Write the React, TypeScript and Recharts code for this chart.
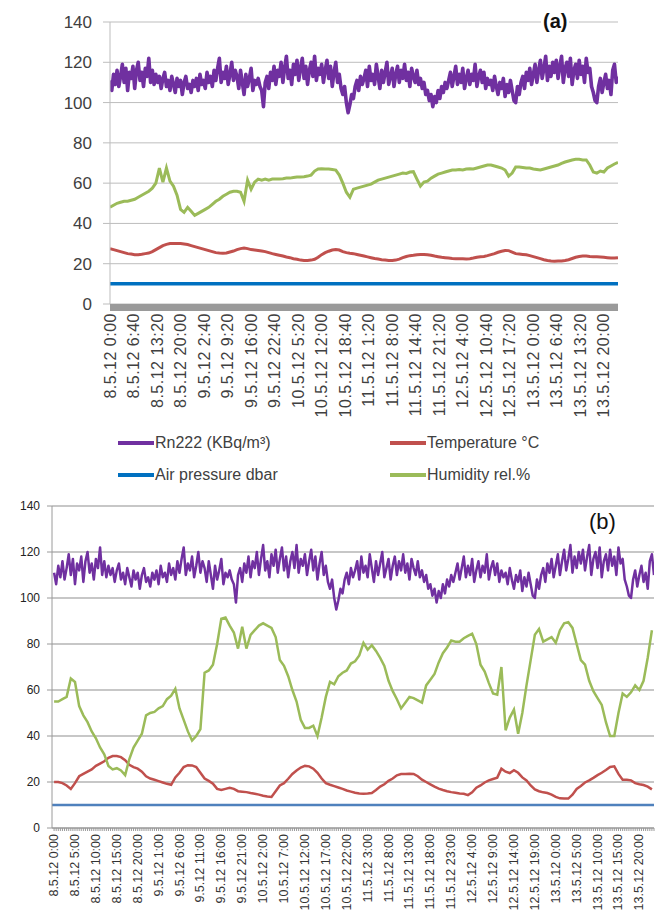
import React from 'react';
import { LineChart, Line, XAxis, YAxis, CartesianGrid } from 'recharts';

// ---------- tick labels ----------
const labelsA = [
  '8.5.12 0:00', '8.5.12 6:40', '8.5.12 13:20', '8.5.12 20:00', '9.5.12 2:40', '9.5.12 9:20',
  '9.5.12 16:00', '9.5.12 22:40', '10.5.12 5:20', '10.5.12 12:00', '10.5.12 18:40', '11.5.12 1:20',
  '11.5.12 8:00', '11.5.12 14:40', '11.5.12 21:20', '12.5.12 4:00', '12.5.12 10:40', '12.5.12 17:20',
  '13.5.12 0:00', '13.5.12 6:40', '13.5.12 13:20', '13.5.12 20:00',
];
const labelsB = [
  '8.5.12 0:00', '8.5.12 5:00', '8.5.12 10:00', '8.5.12 15:00', '8.5.12 20:00', '9.5.12 1:00',
  '9.5.12 6:00', '9.5.12 11:00', '9.5.12 16:00', '9.5.12 21:00', '10.5.12 2:00', '10.5.12 7:00',
  '10.5.12 12:00', '10.5.12 17:00', '10.5.12 22:00', '11.5.12 3:00', '11.5.12 8:00', '11.5.12 13:00',
  '11.5.12 18:00', '11.5.12 23:00', '12.5.12 4:00', '12.5.12 9:00', '12.5.12 14:00', '12.5.12 19:00',
  '13.5.12 0:00', '13.5.12 5:00', '13.5.12 10:00', '13.5.12 15:00', '13.5.12 20:00',
];
const yTicks = [0, 20, 40, 60, 80, 100, 120, 140];

// ---------- series (Rn222 every 30 min, others hourly) ----------
const rn222 = [
  111, 106, 114, 109, 116, 108, 113, 119, 110, 117, 106, 115,
  112, 118, 107, 116, 120, 111, 115, 108, 117, 113, 122, 110,
  116, 109, 114, 110, 113, 107, 112, 115, 108, 111, 106, 113,
  109, 105, 112, 108, 111, 104, 110, 113, 107, 109, 105, 111,
  108, 112, 106, 114, 109, 111, 107, 115, 110, 113, 108, 116,
  111, 117, 122, 110, 115, 112, 118, 109, 114, 120, 111, 116,
  113, 107, 116, 110, 104, 114, 108, 112, 117, 106, 111, 109,
  112, 108, 106, 98, 110, 113, 107, 115, 111, 118, 109, 116,
  113, 120, 110, 117, 123, 112, 116, 109, 119, 114, 121, 111,
  117, 122, 112, 118, 109, 116, 120, 113, 123, 111, 117, 114,
  119, 110, 116, 121, 112, 118, 108, 115, 120, 110, 114, 107,
  104, 108, 100, 95, 99, 104, 102, 108, 111, 106, 113, 109,
  112, 116, 108, 118, 111, 114, 109, 119, 113, 107, 116, 110,
  115, 120, 109, 113, 117, 108, 114, 118, 110, 116, 112, 119,
  111, 115, 108, 117, 113, 110, 116, 109, 112, 107, 110, 104,
  106, 101, 104, 98, 103, 100, 106, 102, 108, 105, 110, 107,
  111, 115, 108, 113, 118, 109, 114, 110, 117, 107, 112, 116,
  109, 114, 111, 119, 108, 113, 116, 110, 115, 107, 112, 109,
  111, 106, 113, 108, 104, 110, 107, 112, 103, 109, 105, 111,
  106, 101, 100, 108, 104, 110, 113, 107, 115, 111, 117, 109,
  114, 119, 110, 116, 121, 112, 117, 123, 111, 118, 113, 120,
  115, 121, 112, 118, 123, 110, 117, 120, 113, 122, 109, 116,
  119, 112, 121, 114, 118, 110, 122, 115, 117, 108, 105, 101,
  100, 108, 112, 105, 110, 114, 107, 111, 104, 116, 119, 110,
  113,
];

const humidityA = [
  48, 49, 50, 50.5, 51, 51, 51.5, 52, 53, 54,
  55, 56, 57.5, 60, 67.5, 60.5, 67.5, 61, 58.5, 54,
  47, 45.5, 48, 46, 44, 45, 46, 47, 48, 49.5,
  51, 52, 53.5, 54.5, 55.5, 56, 56, 55.5, 51, 61.5,
  57, 60.5, 62, 61.5, 62, 61.5, 62, 62, 62, 62.2,
  62.5, 62.5, 62.8, 63, 63, 63.2, 63.5, 64, 66, 67,
  67.2, 67, 67, 66.8, 66.5, 64, 60, 55.5, 53, 57,
  57.5, 58, 58.5, 59, 59.5, 60.5, 61.5, 62, 62.5, 63,
  63.5, 64, 64.5, 65, 64.8, 65.5, 65.7, 62, 58.5, 60.5,
  61, 62.5, 63.5, 64.5, 65, 65.5, 66, 66.5, 66.5, 66.8,
  66.5, 67, 67.2, 67, 67.5, 68, 68.5, 69, 69, 68.5,
  68, 67.5, 66.5, 63.5, 65, 68, 68, 67.8, 67.5, 67.5,
  67, 66.8, 66.5, 67, 67.5, 68, 68.5, 69, 69.8, 70.5,
  71, 71.5, 71.8, 71.8, 71.5, 71.5, 69, 65.5, 65, 66,
  65.5, 67.5, 68.5, 69.5, 70.3,
];

const temperatureA = [
  27.5, 27, 26.5, 26, 25.5, 25, 24.8, 24.5, 24.5, 24.7,
  25, 25.3, 26, 27, 28, 29, 29.6, 30, 30, 30,
  30, 29.8, 29.5, 29, 28.5, 28, 27.5, 27, 26.5, 26,
  25.5, 25.3, 25.2, 25.3, 25.8, 26.3, 27, 27.5, 27.8, 27.5,
  27, 26.8, 26.6, 26.3, 26, 25.5, 25, 24.6, 24.2, 23.8,
  23.3, 23, 22.5, 22.2, 21.8, 21.6, 21.6, 21.8, 22.2, 23.2,
  24.5, 25.5, 26.2, 26.8, 27, 26.8, 26, 25.5, 25.2, 25,
  24.6, 24.2, 23.8, 23.4, 23, 22.6, 22.3, 22, 21.8, 21.6,
  21.6, 21.8, 22.3, 23, 23.6, 24, 24.2, 24.5, 24.6, 24.6,
  24.5, 24.2, 23.8, 23.5, 23.2, 23, 22.8, 22.6, 22.5, 22.5,
  22.5, 22.4, 22.5, 22.8, 23.2, 23.5, 23.6, 24, 24.5, 25,
  25.7, 26.2, 26.6, 26.5, 25.8, 25, 24.8, 24.6, 24.4, 24,
  23.5, 23, 22.5, 22, 21.6, 21.3, 21.2, 21.3, 21.4, 21.6,
  22, 22.6, 23.2, 23.6, 23.8, 23.8, 23.6, 23.5, 23.4, 23.3,
  23.2, 23, 22.8, 22.8, 23,
];

const airPressureA = [10, 10];
const airPressureHoursA = [0, 144];

const humidityB = [
  55, 55, 56, 57, 65, 63.5, 53, 49, 46, 42,
  39, 35, 32, 27, 25.5, 26, 25, 23, 30, 35,
  38, 41, 49, 50, 50.5, 52, 53, 56, 57.5, 60.5,
  52, 47, 42, 38, 40, 43, 67.5, 68.5, 71, 80,
  91, 91.5, 88, 85, 78, 87.5, 78, 84, 86, 88,
  89, 88, 87, 83, 73, 70.5, 66, 60, 55, 47,
  43.5, 43.5, 44.5, 40, 48, 57, 63.5, 62.5, 66, 67.5,
  68.5, 71.5, 72.5, 75, 80.5, 77.5, 79.5, 77, 74, 70.5,
  64, 59.5, 56, 52, 54.5, 57, 56.5, 55.5, 54.5, 62,
  64.5, 67, 72, 76, 78.5, 81.5, 81, 81, 82.5, 83.5,
  84.5, 80, 71, 68, 63, 58.5, 58, 70, 42.5, 48,
  51.5, 41, 50, 62, 73, 84, 86.5, 81, 82, 83,
  80.5, 86, 89, 89.5, 87, 80, 73, 71, 64, 59.5,
  56.5, 53.5, 46, 40, 40, 50, 58.5, 57, 59, 62,
  60, 64, 74, 86,
];

const temperatureB = [
  20, 20, 19.5, 18.5, 17, 19.5, 22.5, 23.5, 24.5, 25.5,
  27, 28, 29, 30.5, 31.3, 31.3, 30.8, 29.5, 27.5, 26.5,
  25.8, 24.5, 22.5, 21.5, 21, 20.4, 19.8, 19.2, 18.8, 22,
  24, 26.5, 27.3, 27.2, 26.5, 24, 21.5, 20.5, 19.3, 17,
  16.5, 17, 17.5, 17, 16, 15.8, 15.6, 15.2, 14.9, 14.5,
  14, 13.7, 13.5, 16, 18.5, 19.5, 21.4, 23.5, 25, 26.3,
  27, 26.8, 25.8, 24, 21.5, 19.5, 18.8, 18.2, 17.6, 17,
  16.3, 15.8, 15.3, 15, 14.9, 15, 15.2, 16.5, 18, 19,
  20.5, 21.5, 22.9, 23.5, 23.5, 23.6, 23.5, 22.5, 21, 20,
  19, 18, 17.1, 16.5, 16, 15.6, 15.3, 15, 14.9, 14.3,
  15.5, 17.5, 18.5, 19.8, 20.7, 21.3, 21.9, 25.8, 24.5, 23.9,
  25.1, 24, 22, 20.7, 18.5, 16.8, 16, 15.5, 15.2, 14.5,
  13.5, 12.9, 12.8, 12.8, 14.5, 17, 18.3, 19.8, 20.7, 21.8,
  23, 24, 25.2, 26.5, 26.8, 23.5, 21, 21, 20.7, 19.5,
  19, 18.7, 18, 16.8,
];

const airPressureB = [10, 10];
const airPressureHoursB = [-0.5, 143.5];

// ---------- build series tables ----------
const rnData = rn222.map((v, i) => ({ h: i * 0.5, v }));
const hourly = (arr: number[]) => arr.map((v, i) => ({ h: i, v }));
const pairs = (hs: number[], vs: number[]) => hs.map((h, i) => ({ h, v: vs[i] }));

const humADat = hourly(humidityA);
const tempADat = hourly(temperatureA);
const airADat = pairs(airPressureHoursA, airPressureA);
const humBDat = hourly(humidityB);
const tempBDat = hourly(temperatureB);
const airBDat = pairs(airPressureHoursB, airPressureB);
const rnBDat = rnData.filter((d) => d.h <= 143.5);

const ticksA = labelsA.map((_, i) => (i * 400) / 60);
const ticksB = rnBDat.map((d) => d.h);

const COLORS = {
  rn: '#7030a0',
  temp: '#c0504d',
  air: '#0070c0',
  hum: '#9bbb59',
  airB: '#4f81bd',
};

const FONT = '"Liberation Sans", Arial, sans-serif';

const TickA = (props: any) => {
  const { x, y, payload } = props;
  const idx = Math.round((payload.value * 60) / 400);
  return (
    <g transform={`translate(${x},${y})`}>
      <text
        transform="rotate(-90)"
        x={-9}
        y={0}
        textAnchor="end"
        dominantBaseline="central"
        fontSize={16}
        letterSpacing={0.5}
        fill="#404040"
        fontFamily={FONT}
      >
        {labelsA[idx]}
      </text>
    </g>
  );
};

const TickB = (props: any) => {
  const { x, y, payload } = props;
  const v = payload.value;
  if (Math.abs(v % 5) > 1e-6) return <g />;
  const idx = Math.round(v / 5);
  if (idx >= labelsB.length) return <g />;
  return (
    <g transform={`translate(${x},${y})`}>
      <text
        transform="rotate(-90)"
        x={-3}
        y={0}
        textAnchor="end"
        dominantBaseline="central"
        fontSize={12.5}
        fill="#333"
        fontFamily={FONT}
      >
        {labelsB[idx]}
      </text>
    </g>
  );
};

const legendItems = [
  { name: 'Rn222 (KBq/m³)', color: COLORS.rn, x: 118, y: 443 },
  { name: 'Temperature °C', color: COLORS.temp, x: 390, y: 443 },
  { name: 'Air pressure dbar', color: COLORS.air, x: 118, y: 475 },
  { name: 'Humidity rel.%', color: COLORS.hum, x: 390, y: 475 },
];

export default function App() {
  return (
    <div
      style={{
        position: 'absolute',
        left: 0,
        top: 0,
        width: 666,
        height: 915,
        background: '#fff',
        overflow: 'hidden',
        fontFamily: FONT,
      }}
    >
      {/* Chart (a) */}
      <div style={{ position: 'absolute', left: 0, top: 0 }}>
        <LineChart width={666} height={430} margin={{ top: 22, right: 48, bottom: 0, left: 0 }}>
          <CartesianGrid vertical={false} stroke="#bdbdbd" />
          <XAxis
            type="number"
            dataKey="h"
            domain={[0, 144]}
            ticks={ticksA}
            interval={0}
            height={126}
            tickSize={0}
            tickMargin={0}
            tickLine={false}
            axisLine={{ stroke: '#9a9a9a', strokeWidth: 7, transform: 'translate(0,3.5)' }}
            tick={<TickA />}
            allowDataOverflow
          />
          <YAxis
            type="number"
            domain={[0, 140]}
            ticks={yTicks}
            width={110}
            tickSize={7}
            tickMargin={11}
            axisLine={{ stroke: '#bdbdbd' }}
            tickLine={{ stroke: '#bdbdbd' }}
            tick={{ fontSize: 17, fill: '#404040', fontFamily: FONT }}
          />
          <Line data={airADat} dataKey="v" type="linear" stroke={COLORS.air} strokeWidth={3.5} dot={false} isAnimationActive={false} />
          <Line data={tempADat} dataKey="v" type="linear" stroke={COLORS.temp} strokeWidth={3} dot={false} isAnimationActive={false} />
          <Line data={humADat} dataKey="v" type="linear" stroke={COLORS.hum} strokeWidth={3} dot={false} isAnimationActive={false} />
          <Line data={rnData} dataKey="v" type="linear" stroke={COLORS.rn} strokeWidth={3.6} strokeLinejoin="round" dot={false} isAnimationActive={false} />
        </LineChart>
      </div>

      <div
        style={{
          position: 'absolute',
          left: 541,
          top: 9,
          padding: '0 2px',
          background: '#fff',
          fontSize: 20,
          fontWeight: 'bold',
          lineHeight: '24px',
          color: '#111',
          fontFamily: FONT,
        }}
      >
        (a)
      </div>

      {/* Legend (a) */}
      {legendItems.map((it) => (
        <div
          key={it.name}
          style={{
            position: 'absolute',
            left: it.x,
            top: it.y - 10,
            height: 20,
            display: 'flex',
            alignItems: 'center',
            fontSize: 16,
            color: '#404040',
            whiteSpace: 'nowrap',
          }}
        >
          <svg width={36} height={20} style={{ display: 'block' }}>
            <line x1={0} y1={10} x2={36} y2={10} stroke={it.color} strokeWidth={4} />
          </svg>
          <span style={{ marginLeft: 1 }}>{it.name}</span>
        </div>
      ))}

      {/* Chart (b) */}
      <div style={{ position: 'absolute', left: 0, top: 490 }}>
        <LineChart width={666} height={425} margin={{ top: 16, right: 12, bottom: 0, left: 0 }}>
          <CartesianGrid vertical={false} stroke="#8f8f8f" />
          <XAxis
            type="number"
            dataKey="h"
            domain={[-0.5, 143.5]}
            ticks={ticksB}
            interval={0}
            height={87}
            tickSize={3}
            tickMargin={0}
            tickLine={{ stroke: '#9a9a9a' }}
            axisLine={{ stroke: '#9a9a9a' }}
            tick={<TickB />}
            allowDataOverflow
          />
          <YAxis
            type="number"
            domain={[0, 140]}
            ticks={yTicks}
            width={52}
            tickSize={5}
            tickMargin={7}
            axisLine={{ stroke: '#9a9a9a' }}
            tickLine={{ stroke: '#9a9a9a' }}
            tick={{ fontSize: 12, fill: '#222', fontFamily: FONT }}
          />
          <Line data={airBDat} dataKey="v" type="linear" stroke={COLORS.airB} strokeWidth={2.5} dot={false} isAnimationActive={false} />
          <Line data={tempBDat} dataKey="v" type="linear" stroke={COLORS.temp} strokeWidth={2.5} dot={false} isAnimationActive={false} />
          <Line data={humBDat} dataKey="v" type="linear" stroke={COLORS.hum} strokeWidth={2.5} dot={false} isAnimationActive={false} />
          <Line data={rnBDat} dataKey="v" type="linear" stroke={COLORS.rn} strokeWidth={2.5} strokeLinejoin="round" dot={false} isAnimationActive={false} />
        </LineChart>
      </div>

      <div
        style={{
          position: 'absolute',
          left: 589,
          top: 508,
          fontSize: 22,
          lineHeight: '28px',
          color: '#111',
          fontFamily: FONT,
        }}
      >
        (b)
      </div>
    </div>
  );
}
